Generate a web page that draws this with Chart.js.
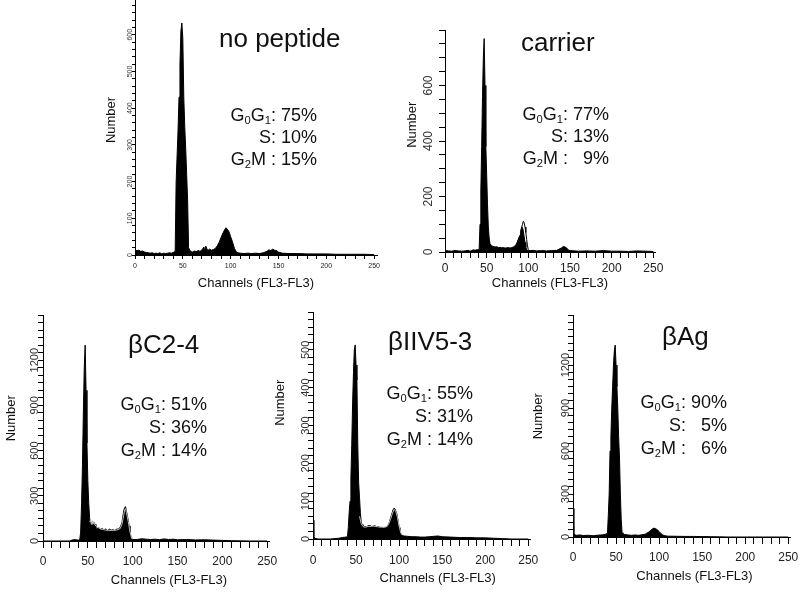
<!DOCTYPE html>
<html lang="en">
<head>
<meta charset="utf-8" />
<title>Cell cycle histograms</title>
<script src="https://cdn.jsdelivr.net/npm/chart.js@4.4.1/dist/chart.umd.min.js"></script>
<style>
  body { margin: 0; background: #fff; width: 800px; height: 592px; position: relative; overflow: hidden;
         font-family: "Liberation Sans", Arial, sans-serif; color: #111; }
  canvas { position: absolute; }
  .ttl { position: absolute; font-size: 26px; line-height: 26px; white-space: nowrap; }
  .stats { position: absolute; font-size: 18px; text-align: right; white-space: pre; }
  .stats sub { font-size: 0.62em; line-height: 0; vertical-align: -0.3em; }
</style>
</head>
<body>
<script>
// ---- data: channel (FL3) and cell count ----
// no peptide
const chNoPeptide = [0,2,4,6,8,10,12,14,16,18,20,22,24,26,28,30,32,34,36,38,40,42,
  43,44,45,46,47,48,49,50,51,52,53,54,55,56,
  58,60,62,64,66,68,70,72,73,74,76,78,80,82,84,
  86,88,90,92,94,95,96,98,100,102,104,106,108,110,
  114,118,122,126,130,134,138,140,142,144,146,148,150,154,
  160,170,180,190,200,210,220,230,240,250];
const nNoPeptide = [14,12,13,10,11,8,7,6,5,6,4,5,4,6,3,5,4,5,6,5,7,10,
  200,270,340,430,520,610,632,590,430,350,290,220,150,20,
  10,8,11,9,12,10,14,22,10,24,12,16,13,15,18,
  25,35,48,60,70,74,72,65,50,35,18,8,6,5,
  4,5,4,5,4,6,10,14,12,16,13,12,8,5,
  4,4,3,3,3,2,2,2,2,1];

// carrier
const chCarrier = [0,4,8,12,16,20,24,28,30,32,34,36,38,40,
  41,42,43,44,45,46,47,48,49,50,51,52,53,54,
  56,58,60,62,64,66,68,70,72,74,76,78,80,82,84,
  86,88,90,91,92,93,94,95,96,97,98,99,100,102,
  106,110,116,122,128,134,138,140,142,144,146,148,150,156,
  160,170,180,190,200,210,220,230,240,250];
const nCarrier = [5,4,3,5,4,3,4,6,3,5,8,6,8,8,
  10,100,220,380,560,700,769,600,380,280,170,90,50,30,
  22,20,18,19,16,17,15,16,14,15,16,14,16,18,22,
  30,45,60,75,90,88,75,55,35,18,8,6,5,5,
  6,4,5,4,5,6,12,15,20,18,14,8,5,4,
  3,4,3,5,3,3,2,4,3,2];
const chCarrierFit = [86,88,90,91,92,93,94,95,96,97,98,99,100,101];
const nCarrierFit = [30,45,60,75,88,100,111,105,90,70,45,22,8,5];

// betaC2-4
const chC24 = [0,10,20,30,32,34,36,38,40,41,
  42,43,44,45,46,47,48,49,50,51,52,53,54,55,56,57,58,59,60,
  62,64,66,68,70,72,74,76,78,80,82,84,86,88,
  89,90,91,92,93,94,95,96,97,98,99,100,
  105,110,115,120,125,130,135,140,145,150,
  160,170,180,190,200,210,220,230,240,250];
const nC24 = [0,0,0,0,6,8,9,7,6,10,
  60,250,500,850,1150,1300,1000,650,400,250,150,115,125,100,110,125,110,85,80,
  90,78,82,75,80,70,78,72,75,70,78,80,90,120,
  160,200,220,228,200,170,140,100,60,30,15,10,
  10,15,12,10,12,9,14,10,12,8,
  10,7,8,6,4,2,1,0,0,0];
const chC24Fit = [52,53,54,55,56,57,58,60,64,70,76,82,86,88,90,91,92,93,95,97,99];
const nC24Fit = [125,140,110,135,115,130,105,95,80,72,70,72,82,110,170,205,215,190,130,60,15];

// betaIIV5-3
const chIIV53 = [0,1,2,6,10,20,30,34,38,40,
  41,42,43,44,45,46,47,48,49,50,51,52,53,54,55,56,57,
  58,60,62,64,66,68,70,72,74,76,78,80,82,84,86,88,
  90,92,93,94,95,96,97,98,99,100,101,102,104,106,
  110,115,120,125,130,135,140,145,150,
  160,170,180,190,200,210,220,230,240,250];
const nIIV53 = [50,8,2,0,0,0,2,4,5,6,
  30,70,100,160,250,360,440,500,513,460,420,250,150,110,70,45,38,
  34,33,32,35,36,33,34,35,32,33,30,31,29,30,33,40,
  55,70,78,82,80,75,70,60,45,30,18,12,9,8,
  7,6,6,5,5,6,7,8,6,
  5,4,4,3,3,2,1,0,0,0];
const chIIV53Fit = [54,56,58,60,64,70,76,82,86,88,90,92,94,96,98,100,102,104];
const nIIV53Fit = [60,40,33,31,33,34,32,31,33,40,52,66,78,74,58,34,16,10];

// betaAg
const chAg = [0,1,2,4,8,12,16,20,24,28,32,36,38,40,
  41,42,43,44,45,46,47,48,49,50,51,52,53,54,55,56,57,58,
  60,64,68,72,76,80,84,86,88,90,92,94,96,98,100,102,104,106,
  110,120,130,140,150,160,170,180,190,200,210,220,230,240,250];
const nAg = [200,30,15,12,14,10,12,11,9,12,14,16,20,25,
  150,300,600,700,900,1050,1200,1300,1340,1200,1050,900,700,550,300,120,30,20,
  18,14,12,14,12,15,20,28,35,45,55,62,58,50,38,25,15,10,
  6,5,4,4,3,2,1,0,0,0,0,0,0,0,0];

// cell cycle phase percentages per panel
const panelNames = ['no peptide', 'carrier', '\u03B2C2-4', '\u03B2IIV5-3', '\u03B2Ag'];
const pctG0G1 = [75, 77, 51, 55, 90];
const pctS = [10, 13, 36, 31, 5];
const pctG2M = [15, 9, 14, 14, 6];

// tick labels
const xTickLabels = [0, 50, 100, 150, 200, 250];
const yLabelsNoPeptide = [0, 100, 200, 300, 400, 500, 600];
const yLabelsCarrier = [0, 200, 400, 600];
const yLabelsC24 = [0, 300, 600, 900, 1200];
const yLabelsIIV53 = [0, 100, 200, 300, 400, 500];
const yLabelsAg = [0, 300, 600, 900, 1200];

const FONT = '"Liberation Sans", Arial, sans-serif';
const EM = '\u2003', EN = '\u2002';

function pts(xs, ys) {
  return xs.map(function (x, i) { return { x: x, y: ys[i] }; });
}

function pctText(v) {
  // figure space keeps single digits lined up like the original
  return (v < 10 ? '\u2007' : '') + v + '%';
}

function makePanel(p, idx) {
  const L = p.yAxisW, B = p.xAxisH, padTop = 8, padRight = 22;
  const w = Math.round(p.right - p.left + L + padRight);
  const h = Math.round(p.bottom - p.top + padTop + B);
  const cv = document.createElement('canvas');
  cv.width = w; cv.height = h;
  cv.style.width = w + 'px'; cv.style.height = h + 'px';
  cv.style.left = Math.round(p.left - L) + 'px';
  cv.style.top = Math.round(p.top - padTop) + 'px';
  document.body.appendChild(cv);

  const datasets = [{
    data: pts(p.ch, p.n), fill: 'origin', backgroundColor: '#000', borderColor: '#000',
    borderWidth: 1, pointRadius: 0, tension: 0, order: 2
  }];
  if (p.fitCh) {
    datasets.push({
      data: pts(p.fitCh, p.fitN), fill: false, borderColor: p.fitColor,
      borderWidth: 1, pointRadius: 0, tension: 0, order: 1
    });
  }

  new Chart(cv, {
    type: 'line',
    data: { datasets: datasets },
    options: {
      responsive: false, animation: false, devicePixelRatio: 1,
      layout: { padding: { top: padTop, right: padRight, left: 0, bottom: 0 } },
      plugins: { legend: { display: false }, tooltip: { enabled: false } },
      scales: {
        x: {
          type: 'linear', min: 0, max: p.xMax,
          afterFit: function (s) { s.height = B; },
          ticks: {
            stepSize: 10, autoSkip: false, includeBounds: false, minRotation: 0, maxRotation: 0,
            padding: p.xPad, color: '#222', font: { family: FONT, size: p.xFont },
            callback: function (v) { return xTickLabels.includes(v) ? String(v) : ''; }
          },
          grid: { drawOnChartArea: false, drawTicks: true, tickLength: p.xTick, color: '#000' },
          border: { color: '#000', width: 1 },
          // leading spaces nudge the centred title right, as in the original
          title: { display: true, text: p.xTitleLead + 'Channels (FL3-FL3)', color: '#111', padding: 0,
                   font: { family: FONT, size: 13 } }
        },
        y: {
          min: 0, max: p.yMax,
          afterFit: function (s) { s.width = L; },
          ticks: {
            stepSize: p.yStep, autoSkip: false, includeBounds: false, minRotation: 90, maxRotation: 90,
            crossAlign: 'center', padding: p.yPad, color: '#333', font: { family: FONT, size: p.yFont },
            callback: function (v) { return p.yLabels.includes(v) ? String(v) : ''; }
          },
          grid: { drawOnChartArea: false, drawTicks: true, tickLength: p.yTick, color: '#000' },
          border: { color: '#000', width: 1 },
          title: { display: true, text: p.yTitleLead + 'Number', color: '#111', padding: 0,
                   font: { family: FONT, size: 13 } }
        }
      }
    }
  });

  const t = document.createElement('div');
  t.className = 'ttl';
  t.textContent = panelNames[idx];
  t.style.left = p.titleX + 'px';
  t.style.top = p.titleY + 'px';
  document.body.appendChild(t);

  const s = document.createElement('div');
  s.className = 'stats';
  s.style.right = (800 - p.statsRight) + 'px';
  s.style.top = p.statsTop + 'px';
  s.style.lineHeight = p.statsLine + 'px';
  s.innerHTML = 'G<sub>0</sub>G<sub>1</sub>: ' + pctText(pctG0G1[idx]) + '\n' +
                'S: ' + pctText(pctS[idx]) + '\n' +
                'G<sub>2</sub>M : ' + pctText(pctG2M[idx]);
  document.body.appendChild(s);
}

const panels = [
  { ch: chNoPeptide, n: nNoPeptide, left: 135, right: 376.9, top: -1.9, bottom: 255,
    xMax: 253, yMax: 700, yStep: 20, yLabels: yLabelsNoPeptide,
    yAxisW: 31, xAxisH: 36, xFont: 7, yFont: 7, xTick: 4, xPad: 3.2, yTick: 3, yPad: -3.5,
    xTitleLead: '', yTitleLead: EN + EN,
    titleX: 219, titleY: 25, statsRight: 317, statsTop: 104, statsLine: 22 },
  { ch: chCarrier, n: nCarrier, fitCh: chCarrierFit, fitN: nCarrierFit, fitColor: '#000',
    left: 445, right: 654.7, top: 29.6, bottom: 252,
    xMax: 252, yMax: 800, yStep: 50, yLabels: yLabelsCarrier,
    yAxisW: 40, xAxisH: 39, xFont: 12, yFont: 12, xTick: 6, xPad: 3.4, yTick: 6, yPad: 0,
    xTitleLead: '', yTitleLead: EM + EM + EN,
    titleX: 521, titleY: 29, statsRight: 609, statsTop: 103, statsLine: 22 },
  { ch: chC24, n: nC24, fitCh: chC24Fit, fitN: nC24Fit, fitColor: '#bbb',
    left: 43, right: 268.8, top: 314.8, bottom: 541,
    xMax: 252, yMax: 1500, yStep: 50, yLabels: yLabelsC24,
    yAxisW: 39, xAxisH: 47, xFont: 12, yFont: 11, xTick: 7, xPad: 6.4, yTick: 5, yPad: -9,
    xTitleLead: EM + EM, yTitleLead: EM + EN,
    titleX: 128, titleY: 331, statsRight: 207, statsTop: 393, statsLine: 23 },
  { ch: chIIV53, n: nIIV53, fitCh: chIIV53Fit, fitN: nIIV53Fit, fitColor: '#bbb',
    left: 313, right: 529.7, top: 312.2, bottom: 539,
    xMax: 252, yMax: 600, yStep: 20, yLabels: yLabelsIIV53,
    yAxisW: 40, xAxisH: 47, xFont: 12, yFont: 11, xTick: 7, xPad: 7.4, yTick: 5, yPad: -7,
    xTitleLead: EM + EM + EN, yTitleLead: EM + EM + EM + EN,
    titleX: 388, titleY: 328, statsRight: 473, statsTop: 382, statsLine: 23 },
  { ch: chAg, n: nAg, left: 573, right: 789.7, top: 314.9, bottom: 537,
    xMax: 252, yMax: 1550, yStep: 50, yLabels: yLabelsAg,
    yAxisW: 42, xAxisH: 47, xFont: 12, yFont: 11, xTick: 7, xPad: 6.4, yTick: 5, yPad: -10,
    xTitleLead: EM + EM, yTitleLead: EM + EN,
    titleX: 662, titleY: 323, statsRight: 727, statsTop: 391, statsLine: 23 }
];

panels.forEach(makePanel);
</script>
</body>
</html>
